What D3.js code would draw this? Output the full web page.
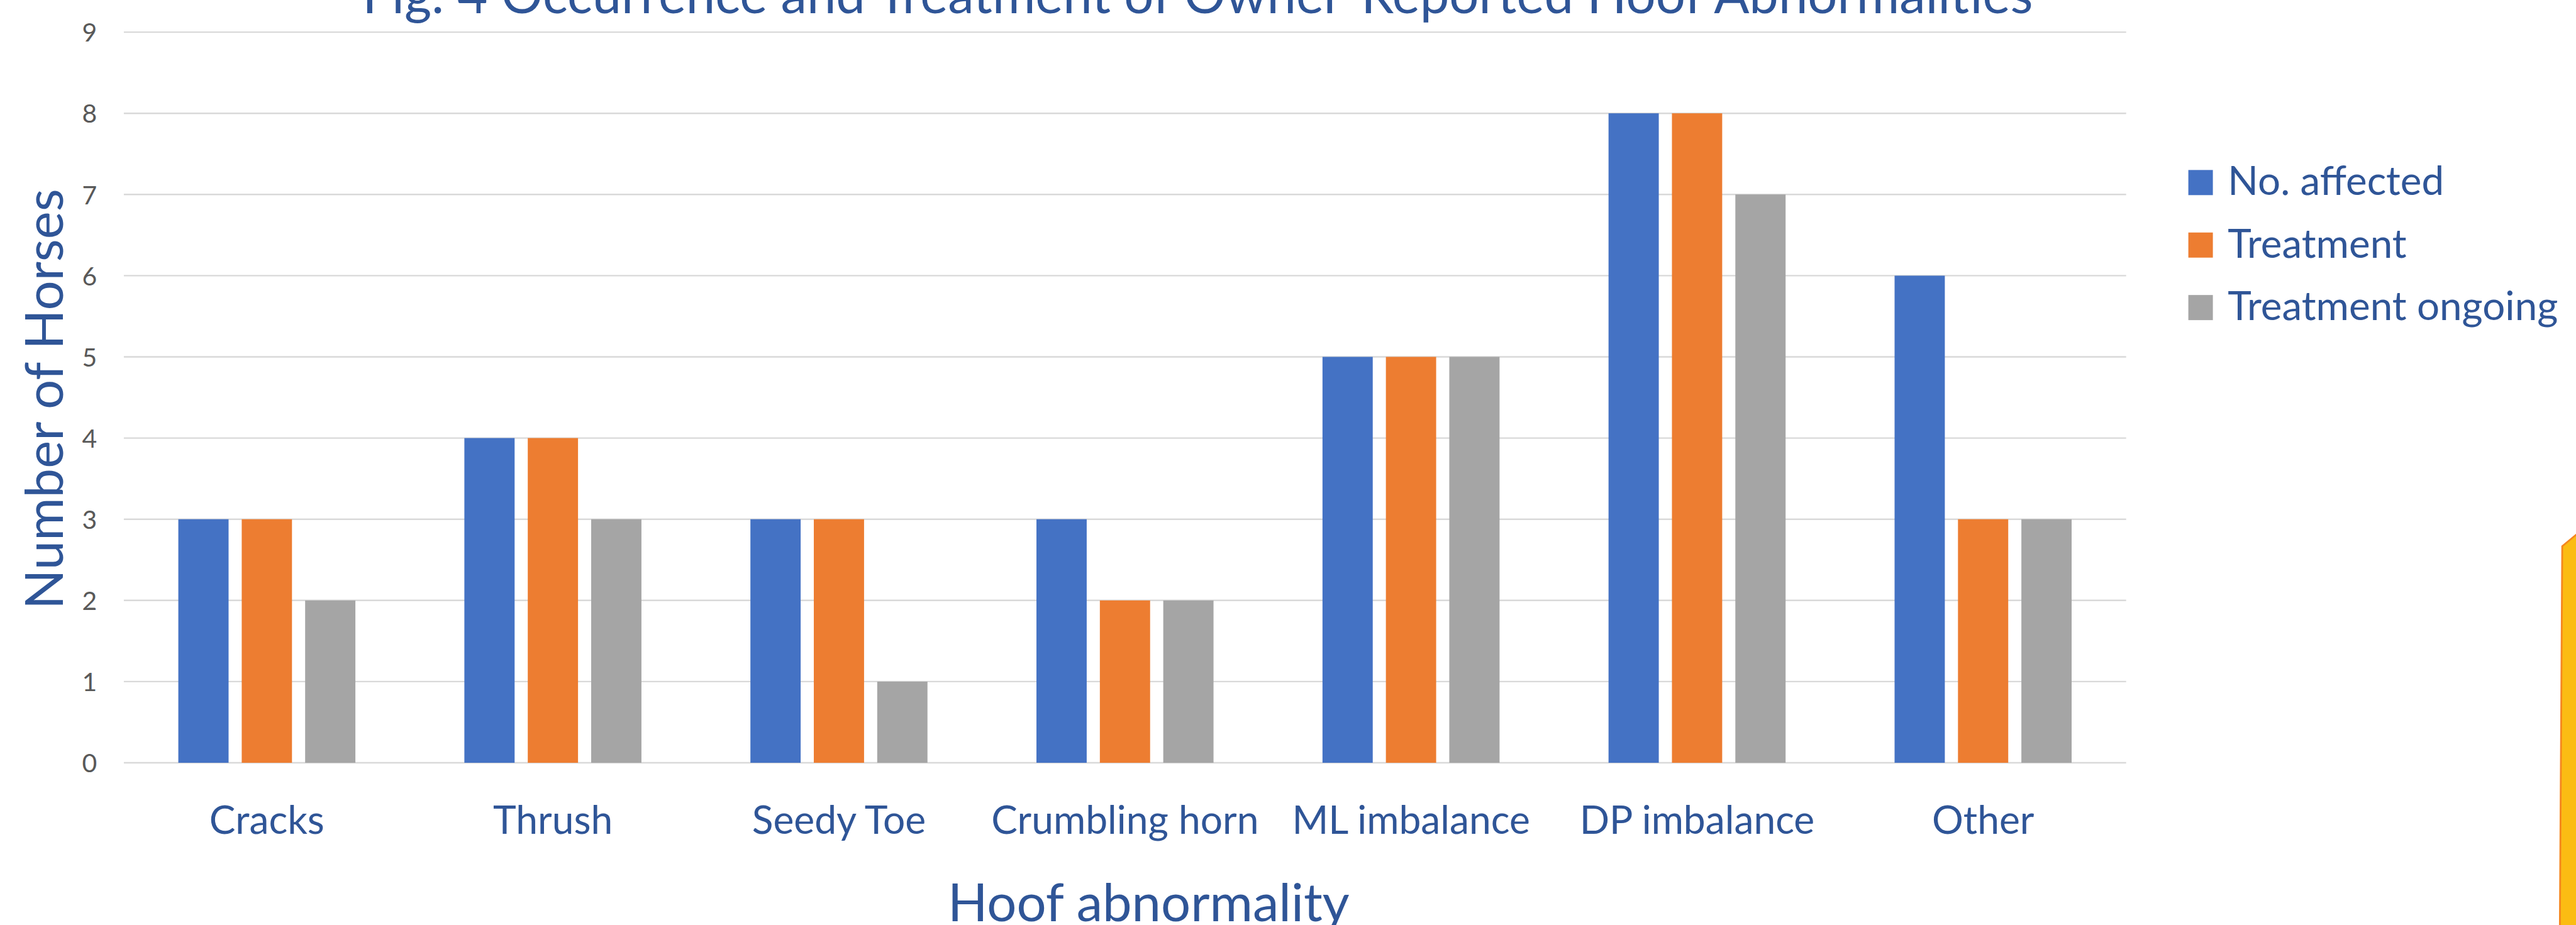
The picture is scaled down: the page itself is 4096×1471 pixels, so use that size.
<!DOCTYPE html>
<html>
<head>
<meta charset="utf-8">
<script src="https://cdn.jsdelivr.net/npm/d3@7"></script>
<style>
  html, body { margin: 0; padding: 0; background: #fff; overflow: hidden; }
  text { font-family: Lato, "Open Sans", sans-serif; }
</style>
</head>
<body>
<div id="chart"></div>
<script>
// chart data
var categories = ["Cracks", "Thrush", "Seedy Toe", "Crumbling horn", "ML imbalance", "DP imbalance", "Other"];
var seriesNames = ["No. affected", "Treatment", "Treatment ongoing"];
var noAffected = [3, 4, 3, 3, 5, 8, 6];
var treatment = [3, 4, 3, 2, 5, 8, 3];
var treatmentOngoing = [2, 3, 1, 2, 5, 7, 3];
var yTicks = [0, 1, 2, 3, 4, 5, 6, 7, 8, 9];
var colors = ["#4472C4", "#ED7D31", "#A5A5A5"];

var seriesValues = [noAffected, treatment, treatmentOngoing];

// everything is laid out in the reference's 4306x1546 space, then scaled by the viewBox
var W = 4306, H = 1546;
var textBlue = "#2F5597";

var svg = d3.select("#chart")
  .append("svg")
  .attr("width", 4096)
  .attr("height", 1471)
  .attr("viewBox", "0 0 " + W + " " + H);

var plot = { left: 207, right: 3554, top: 53.5, bottom: 1275 };

var x0 = d3.scaleBand()
  .domain(categories)
  .range([plot.left, plot.right])
  .paddingInner(0.381)
  .paddingOuter(0.1905);

var x1 = d3.scaleBand()
  .domain(seriesNames)
  .range([0, x0.bandwidth()])
  .paddingInner(0.2075);

var y = d3.scaleLinear()
  .domain([0, 9])
  .range([plot.bottom, plot.top]);

// gridlines
svg.append("g")
  .selectAll("line")
  .data(yTicks)
  .enter().append("line")
  .attr("x1", plot.left)
  .attr("x2", plot.right)
  .attr("y1", function(d) { return y(d); })
  .attr("y2", function(d) { return y(d); })
  .attr("stroke", "#D9D9D9")
  .attr("stroke-width", 2.5);

// y axis labels
var yAxis = d3.axisLeft(y).tickValues(yTicks).tickSize(0).tickPadding(0);
var yg = svg.append("g")
  .attr("transform", "translate(162,0)")
  .call(yAxis);
yg.select(".domain").remove();
yg.selectAll("text")
  .attr("fill", "#595959")
  .attr("font-size", 43)
  .attr("dy", "0.36em");

// bars
var groups = svg.append("g")
  .selectAll("g")
  .data(categories)
  .enter().append("g")
  .attr("transform", function(d) { return "translate(" + x0(d) + ",0)"; });

groups.selectAll("rect")
  .data(function(d, i) {
    return seriesNames.map(function(s, j) { return { s: s, v: seriesValues[j][i], c: colors[j] }; });
  })
  .enter().append("rect")
  .attr("x", function(d) { return x1(d.s); })
  .attr("y", function(d) { return y(d.v); })
  .attr("width", x1.bandwidth())
  .attr("height", function(d) { return y(0) - y(d.v); })
  .attr("fill", function(d) { return d.c; });

// x axis labels
var xAxis = d3.axisBottom(x0).tickSize(0).tickPadding(0);
var xg = svg.append("g")
  .attr("transform", "translate(0,1394)")
  .call(xAxis);
xg.select(".domain").remove();
xg.selectAll("text")
  .attr("fill", textBlue)
  .attr("font-size", 65.5)
  .attr("dy", 0);

// titles
svg.append("text")
  .attr("x", 2002)
  .attr("y", 22)
  .attr("text-anchor", "middle")
  .attr("fill", textBlue)
  .attr("font-size", 87.5)
  .text("Fig. 4 Occurrence and Treatment of Owner-Reported Hoof Abnormalities");

svg.append("text")
  .attr("x", 1920)
  .attr("y", 1540)
  .attr("text-anchor", "middle")
  .attr("fill", textBlue)
  .attr("font-size", 87.5)
  .text("Hoof abnormality");

svg.append("text")
  .attr("transform", "translate(105,667) rotate(-90)")
  .attr("text-anchor", "middle")
  .attr("fill", textBlue)
  .attr("font-size", 87.5)
  .text("Number of Horses");

// legend
var legend = svg.append("g")
  .selectAll("g")
  .data(seriesNames)
  .enter().append("g")
  .attr("transform", function(d, i) { return "translate(3658," + (284 + i * 104.5) + ")"; });

legend.append("rect")
  .attr("width", 41)
  .attr("height", 42)
  .attr("fill", function(d, i) { return colors[i]; });

legend.append("text")
  .attr("x", 66)
  .attr("y", 42)
  .attr("fill", textBlue)
  .attr("font-size", 67)
  .text(function(d) { return d; });

// yellow shape peeking in at the right edge
svg.append("path")
  .attr("d", "M4279," + (H + 10) + " L4283,913 L4330,874 L4330," + (H + 10) + " Z")
  .attr("fill", "#FBBC13")
  .attr("stroke", "#F5871F")
  .attr("stroke-width", 3);
</script>
</body>
</html>
